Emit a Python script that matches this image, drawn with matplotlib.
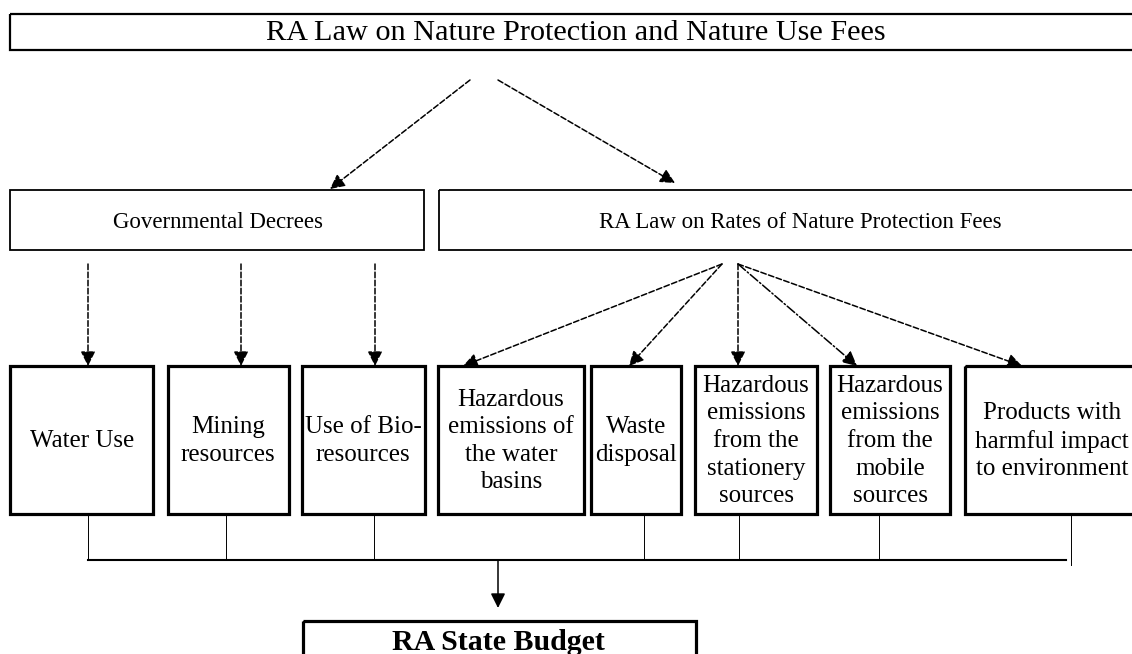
import matplotlib.pyplot as plt
from matplotlib.patches import Rectangle

plt.rcParams['font.family'] = ['Liberation Serif', 'DejaVu Serif']

# texts
title = 'RA Law on Nature Protection and Nature Use Fees'
mid_labels = ['Governmental Decrees', 'RA Law on Rates of Nature Protection Fees']
fee_labels = ['Water Use', 'Mining\nresources', 'Use of Bio-\nresources',
              'Hazardous\nemissions of\nthe water\nbasins', 'Waste\ndisposal',
              'Hazardous\nemissions\nfrom the\nstationery\nsources',
              'Hazardous\nemissions\nfrom the\nmobile\nsources',
              'Products with\nharmful impact\nto environment']
budget = 'RA State Budget'

# layout (pixels, y down)
mid_x = [(10, 424), (439, 1140)]
mid_cx = [218, 800]
fee_x = [(10, 153), (168, 289), (302, 425), (438, 584), (591, 681),
         (695, 817), (830, 950), (965, 1140)]
fee_cx = [82, 228, 363, 511, 636, 756, 890, 1052]
fee_tip = [88, 241, 375, 463, 629, 738, 857, 1022]
fee_src = [88, 241, 375, 722, 722, 738, 738, 738]
fee_ls = ['--'] * 6 + ['-.', '--']
bus_x = [88, 226, 374, 644, 739, 879, 1071]

fig = plt.figure(figsize=(11.32, 6.54), dpi=100)
ax = fig.add_axes([0, 0, 1, 1])
ax.set_xlim(0, 1132)
ax.set_ylim(654, 0)
ax.axis('off')


def box(x0, x1, y0, y1, lw):
    ax.add_patch(Rectangle((x0, y0), x1 - x0, y1 - y0, fill=False,
                           edgecolor='black', linewidth=lw))


def arrow(x0, y0, x1, y1, ls='--', lw=1.1):
    ax.annotate('', xy=(x1, y1), xytext=(x0, y0),
                arrowprops=dict(arrowstyle='-|>', linestyle=ls, linewidth=lw,
                                color='black', mutation_scale=22,
                                shrinkA=0, shrinkB=0))


# top box
box(10, 1140, 14, 50, 1.6)
ax.text(576, 33, title, ha='center', va='center', fontsize=21.8)
arrow(470, 80, 330, 189)
arrow(498, 80, 675, 183)

# middle row
for (x0, x1), cx, lab in zip(mid_x, mid_cx, mid_labels):
    box(x0, x1, 190, 250, 1.3)
    ax.text(cx, 222, lab, ha='center', va='center', fontsize=16.5)

# fee boxes and arrows
for (x0, x1), cx, lab, tip, src, ls in zip(fee_x, fee_cx, fee_labels,
                                           fee_tip, fee_src, fee_ls):
    box(x0, x1, 366, 514, 2.3)
    ax.text(cx, 441, lab, ha='center', va='center', fontsize=18,
            linespacing=1.33)
    arrow(src, 264, tip, 366, ls=ls)

# bus to budget
for x in bus_x:
    ax.plot([x, x], [514, 560 if x != bus_x[-1] else 565], color='black', lw=0.7)
ax.plot([bus_x[0], 1066], [560, 560], color='black', lw=1.5)
arrow(498, 560, 498, 608, ls='-', lw=1.1)

box(303, 696, 621, 670, 2.3)
ax.text(498, 650, budget, ha='center', va='baseline', fontsize=21.5,
        fontweight='bold')

fig.savefig('out.png', dpi=100)
